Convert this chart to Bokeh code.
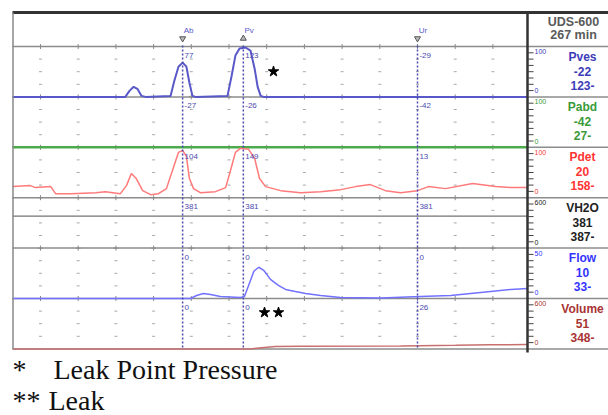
from bokeh.plotting import figure
from bokeh.models import Range1d
from bokeh.core.properties import value
from bokeh.embed import file_html
from bokeh.resources import INLINE

# ---------------- data ----------------
pves_t = [2.6, 32.5, 33.6, 34.7, 35.7, 36.8, 37.9, 44.5, 45.5, 46.6, 47.7, 48.7, 49.5, 50.3, 51.1,
          59.6, 60.7, 61.7, 62.8, 64.4, 65.7, 66.8, 67.6, 68.4, 69.2, 139.2]
pves_v = [0, 0, 12, 20, 16, 2, 0, 2, 32, 60, 68, 60, 28, 2, 0,
          2, 42, 82, 96, 98, 92, 56, 20, 2, 0, 0]

pabd_t = [2.6, 47.7, 63.8, 110.0, 139.2]
pabd_v = [0, 0, 0, 0, 0]

pdet_t = [2.6, 7.3, 8.7, 12.7, 14.0, 18.0, 24.6, 27.2, 31.2, 32.8, 34.1, 35.4, 37.1, 39.2, 41.3, 43.4,
          45.0, 46.6, 47.7, 48.7, 49.5, 50.6, 52.4, 56.4, 59.1, 60.4, 61.7, 63.0, 65.2, 66.8, 68.1, 69.7,
          73.7, 79.0, 84.3, 89.6, 93.6, 97.5, 101.5, 105.5, 110.0, 112.9, 117.4, 124.6, 130.7, 134.7, 139.2]
pdet_v = [22, 24, 20, 22, 8, 8, 10, 12, 8, 24, 48, 38, 14, 6, 8, 18,
          54, 90, 94, 82, 38, 18, 10, 12, 20, 54, 90, 98, 96, 78, 38, 22,
          14, 10, 12, 16, 22, 26, 14, 10, 14, 22, 18, 28, 22, 20, 20]

vh2o_t = [2.6, 139.2]
vh2o_v = [381, 381]

flow_t = [2.6, 49.8, 51.4, 53.2, 55.1, 57.7, 63.0, 64.1, 65.2, 66.6, 67.9, 69.2, 71.0, 73.1, 75.0,
          77.6, 80.3, 84.3, 89.6, 100.2, 110.8, 118.8, 124.1, 129.4, 134.7, 139.2]
flow_v = [0, 0, 3, 5, 4, 2, 1, 2, 13, 27, 31, 28, 19, 13, 9,
          7, 5, 3, 1, 0.5, 2, 3, 5, 7, 9, 10]

vol_t = [2.6, 65.7, 67.9, 72.3, 79.0, 105.5, 120.1, 129.4, 139.2]
vol_v = [0, 0, 12, 28, 32, 36, 42, 48, 51]

channel_names = ["Pves", "Pabd", "Pdet", "VH2O", "Flow", "Volume"]
channel_max = [100, 100, 100, 600, 50, 600]
channel_current = ["-22", "-42", "20", "381", "10", "51"]
channel_peak = ["123-", "27-", "158-", "387-", "33-", "348-"]
channel_text_color = ["#3c3cb8", "#3a9a3a", "#ff3434", "#222222", "#3434ff", "#a83434"]
channel_line_color = ["#5858c8", "#4caa4c", "#ff7a7a", "#505050", "#7272ff", "#c87070"]
channel_line_width = [2, 2.5, 1.5, 1, 1.5, 1.5]
channel_t = [pves_t, pabd_t, pdet_t, vh2o_t, flow_t, vol_t]
channel_v = [pves_v, pabd_v, pdet_v, vh2o_v, flow_v, vol_v]

marker_names = ["Ab", "Pv", "Ur"]
marker_times = [47.7, 63.8, 110.0]
marker_symbols = ["inverted_triangle", "triangle", "inverted_triangle"]
marker_values = [["77", "123", "-29"],
                 ["-27", "-26", "-42"],
                 ["104", "149", "13"],
                 ["381", "381", "381"],
                 ["0", "0", "0"],
                 ["0", "0", "26"]]

grid_times = [10, 20, 30, 40, 50, 60, 70, 80, 90, 100, 110, 120, 130]

# ---------------- layout helpers ----------------
PX_PER_S = 3.77
ROW_PX = 50.4
FIG_W, FIG_H = 608, 415
LEFT_BORDER = 11           # frame starts at page x = 11


def tx(X):                 # page x -> time axis
    return 10 + (X - 40) / PX_PER_S


def ry(Y):                 # page y -> row axis (row 0 = bottom of Volume band)
    return (348.4 - Y) / ROW_PX


T_LEFT = tx(LEFT_BORDER)
T_RIGHT = tx(FIG_W)
T_END = tx(527)
N = len(channel_names)

p = figure(width=FIG_W, height=FIG_H, output_backend="svg", toolbar_location=None,
           x_range=Range1d(T_LEFT, T_RIGHT), y_range=Range1d(ry(FIG_H), ry(0)),
           x_axis_type=None, y_axis_type=None, min_border_left=LEFT_BORDER,
           min_border_right=0, min_border_top=0, min_border_bottom=0)
p.grid.visible = False
p.outline_line_color = None
p.background_fill_color = "white"
p.border_fill_color = "white"

FONT = value("Liberation Sans")

# separators between channel bands
rows = list(range(0, N + 1))
p.segment(x0=[tx(12)] * len(rows), x1=[T_RIGHT] * len(rows), y0=rows, y1=rows,
          line_color="#8c8c8c", line_width=1.5)

# small grid ticks within bands
gx, gy = [], []
for r in range(N):
    for f in (0.25, 0.5, 0.75):
        for t in grid_times:
            gx.append(t)
            gy.append(r + f)
p.scatter(gx, gy, marker="dash", size=3, line_color="#a8a8a8", line_width=1)
cx, cy = [], []
for r in range(1, N + 1):
    for t in grid_times:
        cx.append(t)
        cy.append(r)
p.scatter(cx, cy, marker="cross", size=5, line_color="#8a8a8a", line_width=1)

# traces
for i in range(N):
    row = N - 1 - i
    ys = [row + min(max(v, 0), channel_max[i]) / channel_max[i] for v in channel_v[i]]
    p.line(channel_t[i], ys, line_color=channel_line_color[i], line_width=channel_line_width[i])

# event markers
p.segment(x0=marker_times, x1=marker_times, y0=[N + 0.02] * 3, y1=[0] * 3,
          line_color="#4a4ab0", line_width=1.5, line_dash="2 2")
p.scatter(marker_times, [ry(38)] * 3, marker=marker_symbols, size=6,
          fill_color="#bbbbbb", line_color="#555555", line_width=1)
p.text([t + 0.3 for t in marker_times], [ry(30)] * 3, text=marker_names,
       text_font=FONT, text_font_size=value("8px"), text_color="#5a5ac8",
       text_align="left", text_baseline="middle")
for i in range(N):
    row = N - 1 - i
    p.text([t + 0.5 for t in marker_times], [row + 1 - 9 / ROW_PX] * 3, text=marker_values[i],
           text_font=FONT, text_font_size=value("8px"), text_color="#4a4ab0",
           text_align="left", text_baseline="middle")

# borders
p.segment(x0=[tx(12)], x1=[T_RIGHT], y0=[ry(12)], y1=[ry(12)], line_color="#333333", line_width=3)
p.segment(x0=[tx(12.5)], x1=[tx(12.5)], y0=[ry(12)], y1=[0], line_color="#888888", line_width=1.5)
p.segment(x0=[T_END], x1=[T_END], y0=[ry(12)], y1=[ry(352)], line_color="#333333", line_width=2.5)

# right panel scale ticks
tk_y = []
for r in range(N):
    for f in (0.125, 0.25, 0.375, 0.5, 0.625, 0.75, 0.875):
        tk_y.append(r + f)
p.segment(x0=[T_END] * len(tk_y), x1=[T_END + 1.6] * len(tk_y), y0=tk_y, y1=tk_y,
          line_color="#444444", line_width=1)

# right panel header
p.text([tx(573)] * 2, [ry(21), ry(34)], text=["UDS-600", "267 min"], text_font=FONT,
       text_font_size=value("12.5px"), text_font_style="bold", text_color="#5a5a5a",
       text_align="center", text_baseline="middle")

# right panel channel labels
xc = tx(582)
for i in range(N):
    top = N - i
    p.text([xc] * 3, [top - 10 / ROW_PX, top - 24.5 / ROW_PX, top - 38.5 / ROW_PX],
           text=[channel_names[i], channel_current[i], channel_peak[i]], text_font=FONT,
           text_font_size=value("12px"), text_font_style="bold",
           text_color=channel_text_color[i], text_align="center", text_baseline="middle")
    p.text([tx(534)] * 2, [top - 5 / ROW_PX, top - 1 + 6 / ROW_PX],
           text=[str(channel_max[i]), "0"], text_font=FONT, text_font_size=value("7px"),
           text_color=channel_text_color[i], text_align="left", text_baseline="middle")

# leak annotations
p.scatter([tx(273)], [ry(71)], marker="star", size=11, fill_color="black", line_color="black")
p.scatter([tx(264), tx(278)], [ry(312)] * 2, marker="star", size=11, fill_color="black",
          line_color="black")

SERIF = value("Liberation Serif")
p.text([tx(12), tx(53)], [ry(369)] * 2, text=["*", "Leak Point Pressure"], text_font=SERIF,
       text_font_size=value("28px"), text_color="#111111", text_align="left",
       text_baseline="middle")
p.text([tx(12), tx(48)], [ry(400)] * 2, text=["**", "Leak"], text_font=SERIF,
       text_font_size=value("28px"), text_color="#111111", text_align="left",
       text_baseline="middle")

open("out.html", "w").write(file_html(p, INLINE))
